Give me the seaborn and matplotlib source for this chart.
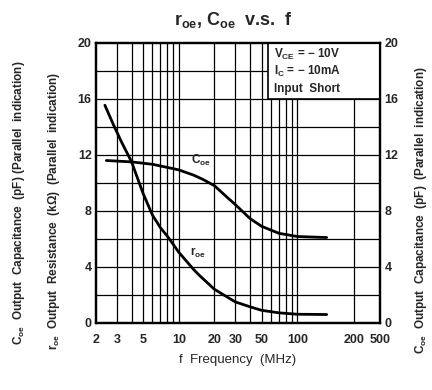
import matplotlib
matplotlib.use("Agg")
import matplotlib.pyplot as plt
import pandas as pd
import seaborn as sns
from matplotlib.patches import Rectangle

# r_oe curve (kOhm) vs frequency (MHz)
roe_f = [2.38, 2.83, 3.3, 4, 5, 6, 7, 8, 9, 10, 13.4, 14.7, 20, 30, 40, 50, 70, 100, 177]
roe_v = [15.55, 14.1, 12.9, 11.5, 9.25, 7.7, 6.8, 6.2, 5.6, 5.05, 3.8, 3.45, 2.4, 1.5, 1.15, 0.9, 0.72, 0.62, 0.6]

# C_oe curve (pF) vs frequency (MHz)
coe_f = [2.45, 4, 6, 10, 13.4, 16, 20, 25, 30, 40, 50, 70, 100, 177]
coe_v = [11.6, 11.5, 11.33, 10.93, 10.55, 10.25, 9.8, 9.05, 8.45, 7.45, 6.9, 6.4, 6.17, 6.1]

tick_pos = [2, 3, 5, 10, 20, 30, 50, 100, 300, 500]
tick_lbl = ["2", "3", "5", "10", "20", "30", "50", "100", "200", "500"]
vgrid = [3, 4, 5, 6, 7, 8, 9, 10, 20, 30, 40, 50, 60, 70, 80, 90, 100, 300]
yticks = [0, 4, 8, 12, 16, 20]
conditions = [r"$\mathregular{V_{CE}}$ = $-$ 10V", r"$\mathregular{I_C}$ = $-$ 10mA", "Input  Short"]

sns.set_style("white")
plt.rcParams["font.family"] = ["Liberation Sans", "DejaVu Sans"]
plt.rcParams["font.weight"] = "bold"
plt.rcParams["mathtext.default"] = "regular"

fig = plt.figure(figsize=(4.32, 3.90), dpi=100)
ax = fig.add_axes([0.222, 0.172, 0.658, 0.718])

roe = pd.DataFrame({"f": roe_f, "v": roe_v})
coe = pd.DataFrame({"f": coe_f, "v": coe_v})
sns.lineplot(data=roe, x="f", y="v", ax=ax, color="black", lw=2.0, zorder=5)
sns.lineplot(data=coe, x="f", y="v", ax=ax, color="black", lw=2.0, zorder=5)

ax.set_xscale("log")
ax.set_xlim(2, 500)
ax.set_ylim(0, 20)

for x in vgrid:
    ax.axvline(x, color="black", lw=0.9, zorder=1)
for y in range(2, 20, 2):
    ax.axhline(y, color="black", lw=0.9, zorder=1)

# condition box
ax.add_patch(Rectangle((57, 16), 500 - 57, 4, facecolor="white", edgecolor="black",
                       lw=1.2, zorder=3))
for i, t in enumerate(conditions):
    ax.text(64, 19.2 - i * 1.25, t, fontsize=8.5, fontweight="bold", va="center", zorder=4)

ax.text(12.6, 11.6, r"$\mathregular{C_{oe}}$", fontsize=8.5, zorder=6, va="center")
ax.text(12.5, 5.0, r"$\mathregular{r_{oe}}$", fontsize=8.5, zorder=6, va="center")

ax.set_xticks(tick_pos)
ax.set_xticklabels(tick_lbl)
ax.xaxis.set_minor_locator(matplotlib.ticker.NullLocator())
ax.set_yticks(yticks)
ax.tick_params(axis="y", length=0, labelsize=9, pad=3)
ax.tick_params(axis="x", length=0, labelsize=9, pad=8)
for lab in ax.get_xticklabels() + ax.get_yticklabels():
    lab.set_fontweight("bold")
ax.set_xlabel("f  Frequency  (MHz)", fontsize=9.5, labelpad=6)
ax.set_ylabel("")

ax2 = ax.twinx()
ax2.set_ylim(0, 20)
ax2.set_yticks(yticks)
ax2.tick_params(length=0, labelsize=9, pad=3)
for lab in ax2.get_yticklabels():
    lab.set_fontweight("bold")

for a in (ax, ax2):
    for s in a.spines.values():
        s.set_color("black")
        s.set_linewidth(1.6)

fig.text(0.54, 0.95, r"$\mathregular{r_{oe}}$, $\mathregular{C_{oe}}$  v.s.  f",
         ha="center", va="center", fontsize=13)
fig.text(0.045, 0.48, r"$\mathregular{C_{oe}}$  Output  Capacitance  (pF) (Parallel  indication)",
         rotation=90, ha="center", va="center", fontsize=8.5)
fig.text(0.125, 0.46, r"$\mathregular{r_{oe}}$  Output  Resistance  (k$\Omega$)  (Parallel  indication)",
         rotation=90, ha="center", va="center", fontsize=8.5)
fig.text(0.975, 0.46, r"$\mathregular{C_{oe}}$  Output  Capacitance  (pF)  (Parallel  indication)",
         rotation=90, ha="center", va="center", fontsize=8.5)

fig.savefig("out.png", dpi=100)
